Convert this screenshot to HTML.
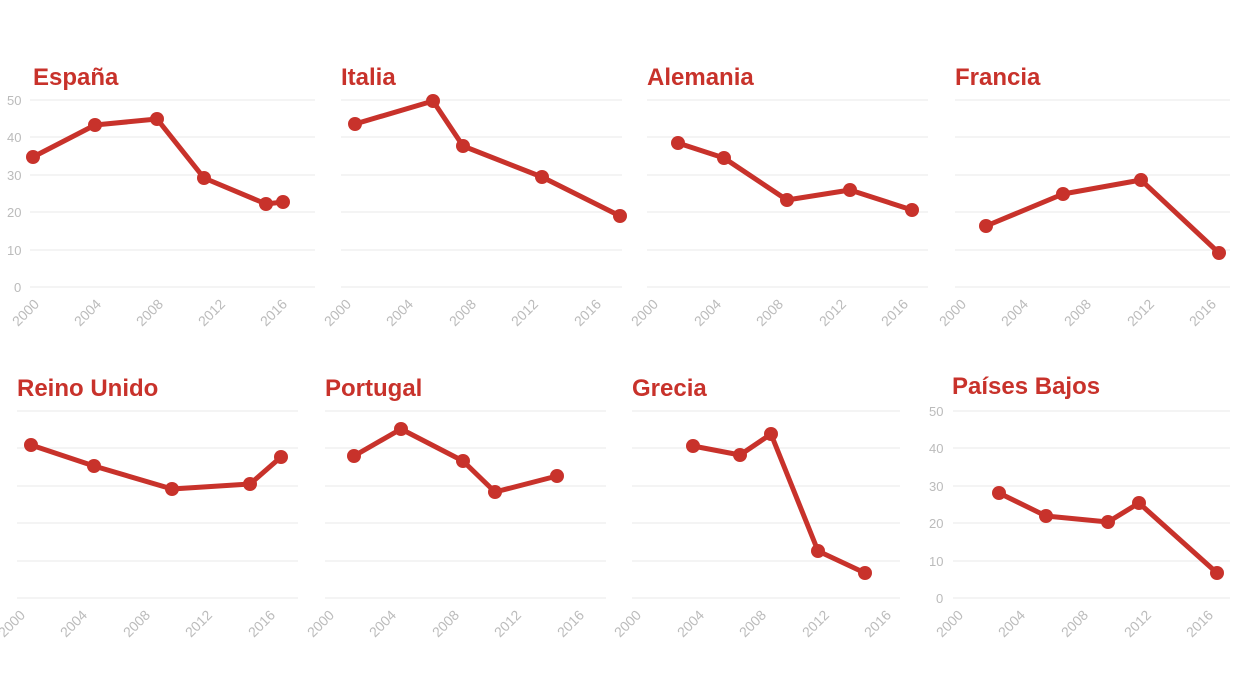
<!DOCTYPE html>
<html><head><meta charset="utf-8"><style>
body{margin:0;background:#fff}
svg{display:block}
.t{font:bold 24px "Liberation Sans",sans-serif;fill:#c8322b}
.y{font:13px "Liberation Sans",sans-serif;fill:#bbb}
.x{font:14px "Liberation Sans",sans-serif;fill:#bbb;text-anchor:end}
.g{stroke:#f0f0f0;stroke-width:1.5}
.l{fill:none;stroke:#c8322b;stroke-width:5;stroke-linejoin:round}
.d{fill:#c8322b}
.r1 .x{transform-box:view-box}
</style></head><body>
<svg width="1240" height="698" xmlns="http://www.w3.org/2000/svg">
<g>
<text class="t" x="33" y="85">España</text>
<g class="g"><line x1="30" x2="315" y1="100" y2="100"/><line x1="30" x2="315" y1="137" y2="137"/><line x1="30" x2="315" y1="175" y2="175"/><line x1="30" x2="315" y1="212" y2="212"/><line x1="30" x2="315" y1="250" y2="250"/><line x1="30" x2="315" y1="287" y2="287"/></g>
<text class="y" x="7" y="105">50</text><text class="y" x="7" y="142">40</text><text class="y" x="7" y="180">30</text><text class="y" x="7" y="217">20</text><text class="y" x="7" y="255">10</text><text class="y" x="14" y="292">0</text>
<text class="x" transform="translate(40,305) rotate(-45)">2000</text><text class="x" transform="translate(102,305) rotate(-45)">2004</text><text class="x" transform="translate(164,305) rotate(-45)">2008</text><text class="x" transform="translate(226,305) rotate(-45)">2012</text><text class="x" transform="translate(288,305) rotate(-45)">2016</text>
<polyline class="l" points="33,157 95,125 157,119 204,178 266,204 283,202"/>
<g class="d"><circle cx="33" cy="157" r="7"/><circle cx="95" cy="125" r="7"/><circle cx="157" cy="119" r="7"/><circle cx="204" cy="178" r="7"/><circle cx="266" cy="204" r="7"/><circle cx="283" cy="202" r="7"/></g>
</g>
<g>
<text class="t" x="341" y="85">Italia</text>
<g class="g"><line x1="341" x2="622" y1="100" y2="100"/><line x1="341" x2="622" y1="137" y2="137"/><line x1="341" x2="622" y1="175" y2="175"/><line x1="341" x2="622" y1="212" y2="212"/><line x1="341" x2="622" y1="250" y2="250"/><line x1="341" x2="622" y1="287" y2="287"/></g>
<text class="x" transform="translate(352,305) rotate(-45)">2000</text><text class="x" transform="translate(414,305) rotate(-45)">2004</text><text class="x" transform="translate(477,305) rotate(-45)">2008</text><text class="x" transform="translate(539,305) rotate(-45)">2012</text><text class="x" transform="translate(602,305) rotate(-45)">2016</text>
<polyline class="l" points="355,124 433,101 463,146 542,177 620,216"/>
<g class="d"><circle cx="355" cy="124" r="7"/><circle cx="433" cy="101" r="7"/><circle cx="463" cy="146" r="7"/><circle cx="542" cy="177" r="7"/><circle cx="620" cy="216" r="7"/></g>
</g>
<g>
<text class="t" x="647" y="85">Alemania</text>
<g class="g"><line x1="647" x2="928" y1="100" y2="100"/><line x1="647" x2="928" y1="137" y2="137"/><line x1="647" x2="928" y1="175" y2="175"/><line x1="647" x2="928" y1="212" y2="212"/><line x1="647" x2="928" y1="250" y2="250"/><line x1="647" x2="928" y1="287" y2="287"/></g>
<text class="x" transform="translate(659,305) rotate(-45)">2000</text><text class="x" transform="translate(722,305) rotate(-45)">2004</text><text class="x" transform="translate(784,305) rotate(-45)">2008</text><text class="x" transform="translate(847,305) rotate(-45)">2012</text><text class="x" transform="translate(909,305) rotate(-45)">2016</text>
<polyline class="l" points="678,143 724,158 787,200 850,190 912,210"/>
<g class="d"><circle cx="678" cy="143" r="7"/><circle cx="724" cy="158" r="7"/><circle cx="787" cy="200" r="7"/><circle cx="850" cy="190" r="7"/><circle cx="912" cy="210" r="7"/></g>
</g>
<g>
<text class="t" x="955" y="85">Francia</text>
<g class="g"><line x1="955" x2="1230" y1="100" y2="100"/><line x1="955" x2="1230" y1="137" y2="137"/><line x1="955" x2="1230" y1="175" y2="175"/><line x1="955" x2="1230" y1="212" y2="212"/><line x1="955" x2="1230" y1="250" y2="250"/><line x1="955" x2="1230" y1="287" y2="287"/></g>
<text class="x" transform="translate(967,305) rotate(-45)">2000</text><text class="x" transform="translate(1029,305) rotate(-45)">2004</text><text class="x" transform="translate(1092,305) rotate(-45)">2008</text><text class="x" transform="translate(1155,305) rotate(-45)">2012</text><text class="x" transform="translate(1217,305) rotate(-45)">2016</text>
<polyline class="l" points="986,226 1063,194 1141,180 1219,253"/>
<g class="d"><circle cx="986" cy="226" r="7"/><circle cx="1063" cy="194" r="7"/><circle cx="1141" cy="180" r="7"/><circle cx="1219" cy="253" r="7"/></g>
</g>
<g>
<text class="t" x="17" y="396">Reino Unido</text>
<g class="g"><line x1="17" x2="298" y1="411" y2="411"/><line x1="17" x2="298" y1="448" y2="448"/><line x1="17" x2="298" y1="486" y2="486"/><line x1="17" x2="298" y1="523" y2="523"/><line x1="17" x2="298" y1="561" y2="561"/><line x1="17" x2="298" y1="598" y2="598"/></g>
<text class="x" transform="translate(26,616) rotate(-45)">2000</text><text class="x" transform="translate(88,616) rotate(-45)">2004</text><text class="x" transform="translate(151,616) rotate(-45)">2008</text><text class="x" transform="translate(213,616) rotate(-45)">2012</text><text class="x" transform="translate(276,616) rotate(-45)">2016</text>
<polyline class="l" points="31,445 94,466 172,489 250,484 281,457"/>
<g class="d"><circle cx="31" cy="445" r="7"/><circle cx="94" cy="466" r="7"/><circle cx="172" cy="489" r="7"/><circle cx="250" cy="484" r="7"/><circle cx="281" cy="457" r="7"/></g>
</g>
<g>
<text class="t" x="325" y="396">Portugal</text>
<g class="g"><line x1="325" x2="606" y1="411" y2="411"/><line x1="325" x2="606" y1="448" y2="448"/><line x1="325" x2="606" y1="486" y2="486"/><line x1="325" x2="606" y1="523" y2="523"/><line x1="325" x2="606" y1="561" y2="561"/><line x1="325" x2="606" y1="598" y2="598"/></g>
<text class="x" transform="translate(335,616) rotate(-45)">2000</text><text class="x" transform="translate(397,616) rotate(-45)">2004</text><text class="x" transform="translate(460,616) rotate(-45)">2008</text><text class="x" transform="translate(522,616) rotate(-45)">2012</text><text class="x" transform="translate(585,616) rotate(-45)">2016</text>
<polyline class="l" points="354,456 401,429 463,461 495,492 557,476"/>
<g class="d"><circle cx="354" cy="456" r="7"/><circle cx="401" cy="429" r="7"/><circle cx="463" cy="461" r="7"/><circle cx="495" cy="492" r="7"/><circle cx="557" cy="476" r="7"/></g>
</g>
<g>
<text class="t" x="632" y="396">Grecia</text>
<g class="g"><line x1="632" x2="900" y1="411" y2="411"/><line x1="632" x2="900" y1="448" y2="448"/><line x1="632" x2="900" y1="486" y2="486"/><line x1="632" x2="900" y1="523" y2="523"/><line x1="632" x2="900" y1="561" y2="561"/><line x1="632" x2="900" y1="598" y2="598"/></g>
<text class="x" transform="translate(642,616) rotate(-45)">2000</text><text class="x" transform="translate(705,616) rotate(-45)">2004</text><text class="x" transform="translate(767,616) rotate(-45)">2008</text><text class="x" transform="translate(830,616) rotate(-45)">2012</text><text class="x" transform="translate(892,616) rotate(-45)">2016</text>
<polyline class="l" points="693,446 740,455 771,434 818,551 865,573"/>
<g class="d"><circle cx="693" cy="446" r="7"/><circle cx="740" cy="455" r="7"/><circle cx="771" cy="434" r="7"/><circle cx="818" cy="551" r="7"/><circle cx="865" cy="573" r="7"/></g>
</g>
<g>
<text class="t" x="952" y="394">Países Bajos</text>
<g class="g"><line x1="953" x2="1230" y1="411" y2="411"/><line x1="953" x2="1230" y1="448" y2="448"/><line x1="953" x2="1230" y1="486" y2="486"/><line x1="953" x2="1230" y1="523" y2="523"/><line x1="953" x2="1230" y1="561" y2="561"/><line x1="953" x2="1230" y1="598" y2="598"/></g>
<text class="y" x="929" y="416">50</text><text class="y" x="929" y="453">40</text><text class="y" x="929" y="491">30</text><text class="y" x="929" y="528">20</text><text class="y" x="929" y="566">10</text><text class="y" x="936" y="603">0</text>
<text class="x" transform="translate(964,616) rotate(-45)">2000</text><text class="x" transform="translate(1026,616) rotate(-45)">2004</text><text class="x" transform="translate(1089,616) rotate(-45)">2008</text><text class="x" transform="translate(1152,616) rotate(-45)">2012</text><text class="x" transform="translate(1214,616) rotate(-45)">2016</text>
<polyline class="l" points="999,493 1046,516 1108,522 1139,503 1217,573"/>
<g class="d"><circle cx="999" cy="493" r="7"/><circle cx="1046" cy="516" r="7"/><circle cx="1108" cy="522" r="7"/><circle cx="1139" cy="503" r="7"/><circle cx="1217" cy="573" r="7"/></g>
</g>
</svg>
</body></html>
